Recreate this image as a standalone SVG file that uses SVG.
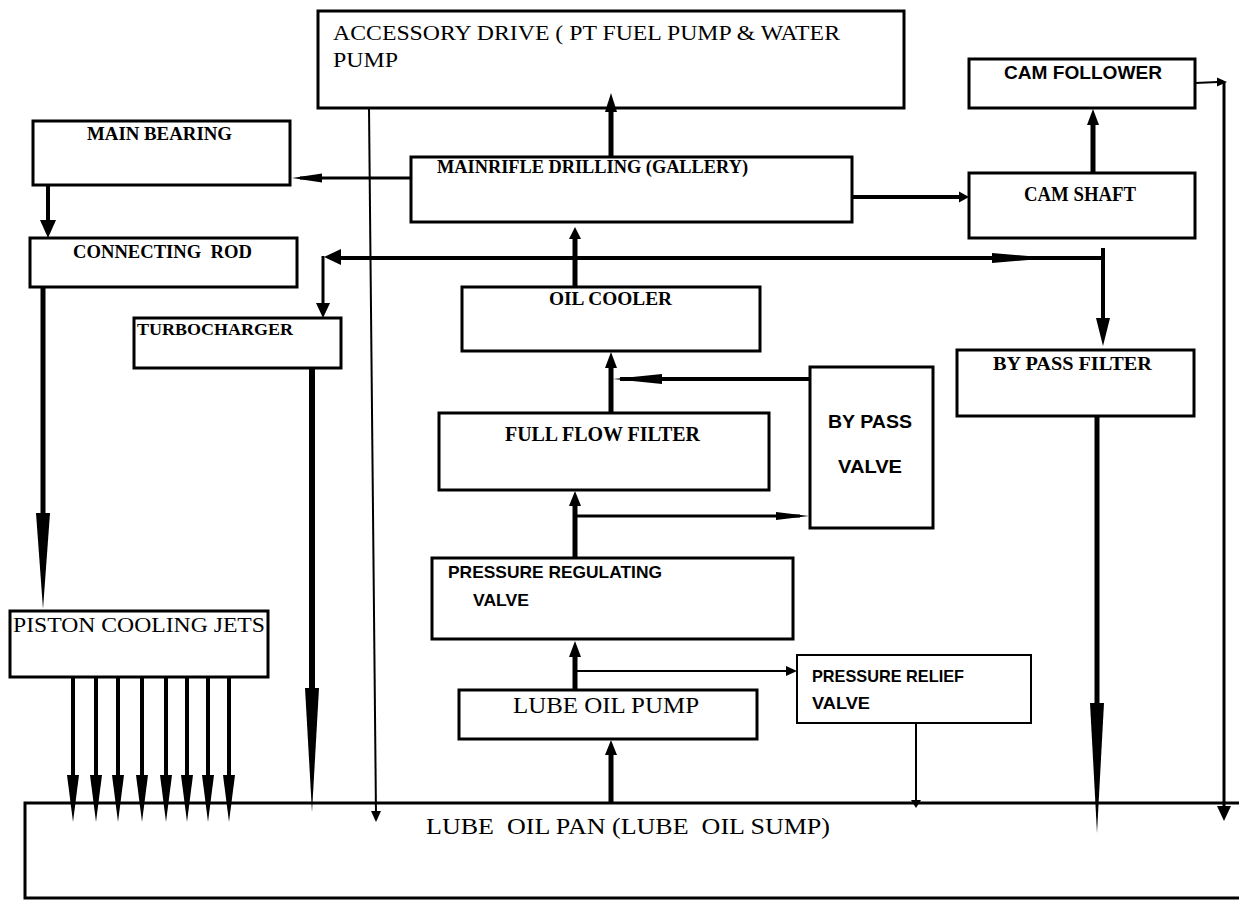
<svg xmlns="http://www.w3.org/2000/svg" width="1239" height="901" viewBox="0 0 1239 901">
<style>
.box{fill:#fff;stroke:#000;stroke-width:3}
.thinbox{fill:#fff;stroke:#000;stroke-width:2}
.ser{font-family:"Liberation Serif","Times New Roman",serif;fill:#000}
.serb{font-family:"Liberation Serif","Times New Roman",serif;font-weight:bold;fill:#000}
.sanb{font-family:"Liberation Sans",Arial,sans-serif;font-weight:bold;fill:#000}
.ln{stroke:#000;fill:none}
.ah{fill:#000;stroke:none}
</style>
<rect x="0" y="0" width="1239" height="901" fill="#fff"/>
<g id="lube-oil-pan">
<rect class="box" x="25" y="803" width="1220" height="95"/>
<text class="ser" x="426" y="834" font-size="23" textLength="404" lengthAdjust="spacingAndGlyphs" xml:space="preserve">LUBE  OIL PAN (LUBE  OIL SUMP)</text>
</g>
<g id="accessory-drive">
<rect class="box" x="318" y="11" width="586" height="97"/>
<text class="ser" x="333" y="40" font-size="22" textLength="507" lengthAdjust="spacingAndGlyphs">ACCESSORY DRIVE ( PT FUEL PUMP &amp; WATER</text>
<text class="ser" x="333" y="67" font-size="22" textLength="65" lengthAdjust="spacingAndGlyphs">PUMP</text>
</g>
<g id="main-bearing">
<rect class="box" x="33" y="121" width="257" height="64"/>
<text class="serb" x="87" y="140" font-size="19" textLength="145" lengthAdjust="spacingAndGlyphs">MAIN BEARING</text>
</g>
<g id="connecting-rod">
<rect class="box" x="30" y="238" width="267" height="49"/>
<text class="serb" x="73" y="258" font-size="19" textLength="179" lengthAdjust="spacingAndGlyphs" xml:space="preserve">CONNECTING  ROD</text>
</g>
<g id="main-rifle-drilling">
<rect class="box" x="411" y="157" width="441" height="65"/>
<text class="serb" x="437" y="173" font-size="19" textLength="311" lengthAdjust="spacingAndGlyphs">MAINRIFLE DRILLING (GALLERY)</text>
</g>
<g id="cam-follower">
<rect class="box" x="969" y="59" width="226" height="49"/>
<text class="sanb" x="1004" y="79" font-size="19" textLength="158" lengthAdjust="spacingAndGlyphs">CAM FOLLOWER</text>
</g>
<g id="cam-shaft">
<rect class="box" x="969" y="173" width="226" height="65"/>
<text class="serb" x="1024" y="201" font-size="20" textLength="112" lengthAdjust="spacingAndGlyphs">CAM SHAFT</text>
</g>
<g id="oil-cooler">
<rect class="box" x="462" y="287" width="298" height="64"/>
<text class="serb" x="549" y="305" font-size="18" textLength="123" lengthAdjust="spacingAndGlyphs">OIL COOLER</text>
</g>
<g id="turbocharger">
<rect class="box" x="134" y="318" width="207" height="50"/>
<text class="serb" x="137" y="335" font-size="17" textLength="156" lengthAdjust="spacingAndGlyphs">TURBOCHARGER</text>
</g>
<g id="full-flow-filter">
<rect class="box" x="439" y="413" width="330" height="77"/>
<text class="serb" x="505" y="441" font-size="20" textLength="195" lengthAdjust="spacingAndGlyphs">FULL FLOW FILTER</text>
</g>
<g id="by-pass-valve">
<rect class="box" x="810" y="367" width="123" height="161"/>
<text class="sanb" x="828" y="428" font-size="19" textLength="84" lengthAdjust="spacingAndGlyphs">BY PASS</text>
<text class="sanb" x="838" y="473" font-size="19" textLength="64" lengthAdjust="spacingAndGlyphs">VALVE</text>
</g>
<g id="by-pass-filter">
<rect class="box" x="957" y="350" width="237" height="66"/>
<text class="serb" x="993" y="370" font-size="19" textLength="159" lengthAdjust="spacingAndGlyphs">BY PASS FILTER</text>
</g>
<g id="pressure-regulating-valve">
<rect class="box" x="432" y="558" width="361" height="81"/>
<text class="sanb" x="448" y="578" font-size="17" textLength="214" lengthAdjust="spacingAndGlyphs">PRESSURE REGULATING</text>
<text class="sanb" x="473" y="606" font-size="17" textLength="56" lengthAdjust="spacingAndGlyphs">VALVE</text>
</g>
<g id="piston-cooling-jets">
<rect class="box" x="10" y="611" width="258" height="66"/>
<text class="ser" x="13" y="632" font-size="21" textLength="252" lengthAdjust="spacingAndGlyphs">PISTON COOLING JETS</text>
</g>
<g id="lube-oil-pump">
<rect class="box" x="459" y="690" width="298" height="49"/>
<text class="ser" x="513" y="713" font-size="23" textLength="186" lengthAdjust="spacingAndGlyphs">LUBE OIL PUMP</text>
</g>
<g id="pressure-relief-valve">
<rect class="thinbox" x="797" y="655" width="234" height="68"/>
<text class="sanb" x="812" y="682" font-size="17" textLength="152" lengthAdjust="spacingAndGlyphs">PRESSURE RELIEF</text>
<text class="sanb" x="812" y="709" font-size="17" textLength="58" lengthAdjust="spacingAndGlyphs">VALVE</text>
</g>
<g id="connectors">
<!-- rifle up to accessory -->
<line class="ln" x1="611" y1="157" x2="611" y2="108" stroke-width="5"/>
<polygon class="ah" points="605,112 617,112 611,93"/>
<!-- rifle to main bearing -->
<line class="ln" x1="411" y1="178" x2="300" y2="178" stroke-width="3"/>
<polygon class="ah" points="292,178 322,173.5 322,182.5"/>
<!-- accessory to pan thin -->
<line class="ln" x1="369" y1="108" x2="376" y2="815" stroke-width="2"/>
<polygon class="ah" points="371,811 381,811 376,822"/>
<!-- main bearing to connecting rod -->
<line class="ln" x1="48" y1="185" x2="48" y2="222" stroke-width="4"/>
<polygon class="ah" points="40,220 56,220 48,238"/>
<!-- connecting rod to piston jets -->
<line class="ln" x1="43" y1="287" x2="43" y2="520" stroke-width="5"/>
<polygon class="ah" points="36,513 50,513 43,609"/>
<!-- rifle to cam shaft -->
<line class="ln" x1="852" y1="197" x2="962" y2="197" stroke-width="4"/>
<polygon class="ah" points="959,191.5 969,197 959,202.5"/>
<!-- cam shaft to cam follower -->
<line class="ln" x1="1093" y1="173" x2="1093" y2="120" stroke-width="5"/>
<polygon class="ah" points="1087,125 1099,125 1093,109"/>
<!-- cam follower to pan -->
<line class="ln" x1="1195" y1="83" x2="1218" y2="82" stroke-width="2"/>
<polygon class="ah" points="1217,77.5 1227,82 1217,86.5"/>
<line class="ln" x1="1224" y1="82" x2="1224" y2="810" stroke-width="3"/>
<polygon class="ah" points="1217,806 1231,806 1224,821"/>
<!-- distribution line -->
<line class="ln" x1="330" y1="258" x2="1103" y2="258" stroke-width="4"/>
<polygon class="ah" points="324,257 341,249 341,265"/>
<polygon class="ah" points="992,253 1052,258 992,263"/>
<line class="ln" x1="1103" y1="248" x2="1103" y2="325" stroke-width="4"/>
<polygon class="ah" points="1096,318 1110,318 1103,346"/>
<line class="ln" x1="323" y1="256" x2="323" y2="306" stroke-width="3"/>
<polygon class="ah" points="316,303 330,303 323,318"/>
<!-- oil cooler to rifle -->
<line class="ln" x1="575" y1="287" x2="575" y2="236" stroke-width="5"/>
<polygon class="ah" points="569,239 581,239 575,227"/>
<!-- turbocharger to pan -->
<line class="ln" x1="312" y1="368" x2="312" y2="695" stroke-width="6"/>
<polygon class="ah" points="305,688 319,688 312,812"/>
<!-- full flow filter to oil cooler -->
<line class="ln" x1="611" y1="413" x2="611" y2="365" stroke-width="5"/>
<polygon class="ah" points="605,368 617,368 611,352"/>
<!-- by pass valve to oil cooler line -->
<line class="ln" x1="810" y1="379" x2="620" y2="379" stroke-width="4"/>
<polygon class="ah" points="613,379 662,374 662,384"/>
<!-- PRV to full flow filter -->
<line class="ln" x1="575" y1="558" x2="575" y2="503" stroke-width="5"/>
<polygon class="ah" points="569,506 581,506 575,491"/>
<line class="ln" x1="575" y1="516" x2="800" y2="516" stroke-width="3"/>
<polygon class="ah" points="776,512 809,516 776,520"/>
<!-- lube pump to PRV -->
<line class="ln" x1="575" y1="690" x2="575" y2="654" stroke-width="5"/>
<polygon class="ah" points="569,657 581,657 575,641"/>
<line class="ln" x1="575" y1="671" x2="790" y2="671" stroke-width="2"/>
<polygon class="ah" points="786,666 797,671 786,676"/>
<!-- relief valve to pan -->
<line class="ln" x1="916" y1="723" x2="916" y2="802" stroke-width="2"/>
<polygon class="ah" points="911,800 921,800 916,808"/>
<!-- pan to lube pump -->
<line class="ln" x1="611" y1="803" x2="611" y2="752" stroke-width="5"/>
<polygon class="ah" points="605,755 617,755 611,740"/>
<!-- by pass filter to pan -->
<line class="ln" x1="1097" y1="416" x2="1097" y2="710" stroke-width="5"/>
<polygon class="ah" points="1090,703 1104,703 1097,833"/>
<!-- piston cooling jets -->
<g stroke="#000" stroke-width="4">
<line x1="73" y1="677" x2="73" y2="780"/>
<line x1="96" y1="677" x2="96" y2="780"/>
<line x1="118" y1="677" x2="118" y2="780"/>
<line x1="142" y1="677" x2="142" y2="780"/>
<line x1="166" y1="677" x2="166" y2="780"/>
<line x1="187" y1="677" x2="187" y2="780"/>
<line x1="208" y1="677" x2="208" y2="780"/>
<line x1="229" y1="677" x2="229" y2="780"/>
</g>
<polygon class="ah" points="67,775 79,775 73,822"/>
<polygon class="ah" points="90,775 102,775 96,822"/>
<polygon class="ah" points="112,775 124,775 118,822"/>
<polygon class="ah" points="136,775 148,775 142,822"/>
<polygon class="ah" points="160,775 172,775 166,822"/>
<polygon class="ah" points="181,775 193,775 187,822"/>
<polygon class="ah" points="202,775 214,775 208,822"/>
<polygon class="ah" points="223,775 235,775 229,822"/>
</g>
</svg>
